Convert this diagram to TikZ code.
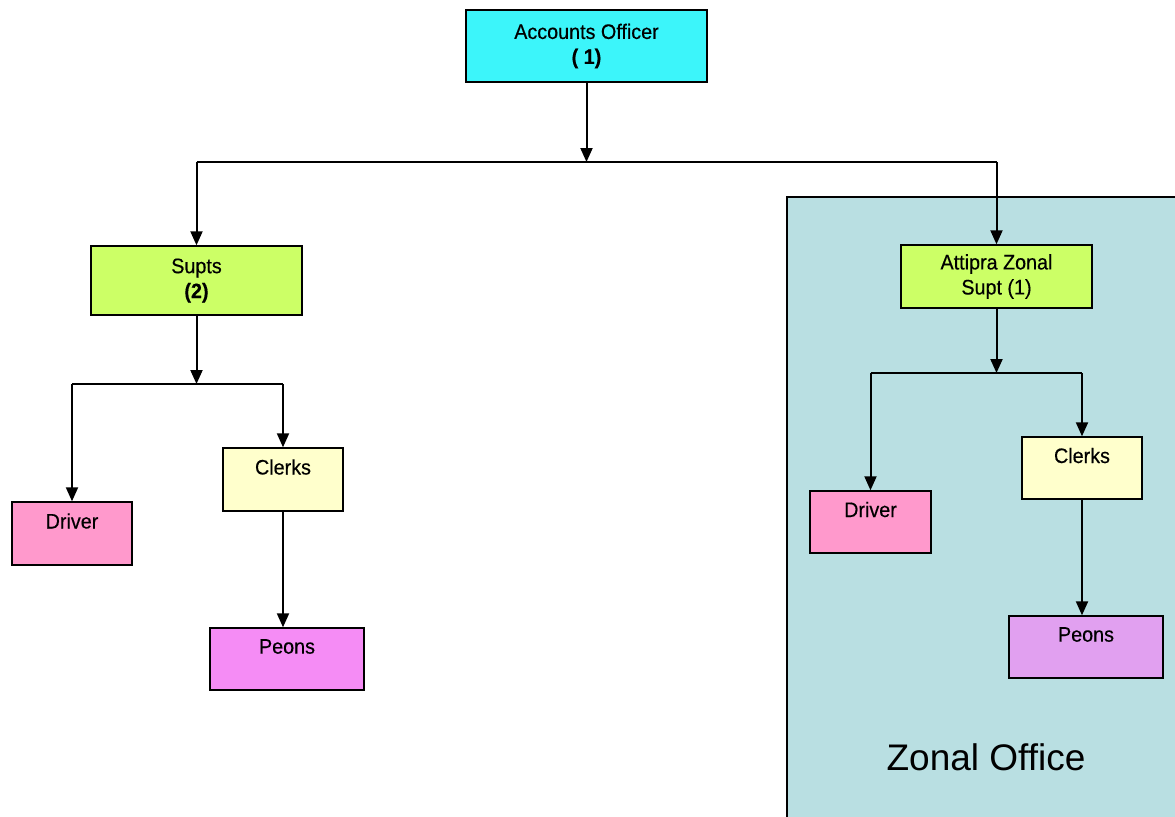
\documentclass[tikz,border=0pt]{standalone}
\usepackage{fontspec}
\setmainfont{Liberation Sans}
\newfontfamily\boxfont[FakeBold=0.4,FakeStretch=0.94]{Liberation Sans}
\usetikzlibrary{arrows.meta}
\definecolor{acccyan}{RGB}{60,245,250}
\definecolor{suptgreen}{RGB}{204,255,102}
\definecolor{drvpink}{RGB}{255,153,204}
\definecolor{clkyellow}{RGB}{255,255,204}
\definecolor{peonpink}{RGB}{245,140,245}
\definecolor{peonlilac}{RGB}{225,160,240}
\definecolor{zoneteal}{RGB}{185,223,226}
\begin{document}
\begin{tikzpicture}[x=0.5pt,y=-0.5pt,
	box/.style={draw,line width=0.7pt,align=center,inner sep=0pt,
		minimum width=60pt,minimum height=31.5pt,font=\boxfont\fontsize{10.5}{12.5}\selectfont},
	arr/.style={line width=1pt,-{Triangle[length=7pt,width=6pt]}},
	link/.style={line width=1pt}]
	\useasboundingbox (0,0) rectangle (1175,816);
	% zonal office area
	\draw[fill=zoneteal,line width=1pt] (787,197) rectangle (1190,830);
	\node (zone) at (986,757) {\fontsize{18.5}{22}\selectfont Zonal Office};
	
	\node[box,fill=acccyan,minimum width=120.5pt,minimum height=36pt] (acc) at (586.5,46)
		{Accounts Officer\\\textbf{( 1)}};
	\node[box,fill=suptgreen,minimum width=105.5pt,minimum height=34.5pt] (supts) at (196.5,280.5)
		{Supts\\\textbf{(2)}};
	\node[box,fill=suptgreen,minimum width=95.5pt] (att) at (996.5,276.5)
		{Attipra Zonal\\Supt (1)};
	\node[box,fill=drvpink] (drv) at (72,533.5) {Driver\\\phantom{Driver}};
	\node[box,fill=clkyellow] (clk) at (283,479.5) {Clerks\\\phantom{Clerks}};
	\node[box,fill=peonpink,minimum width=77pt,minimum height=31pt] (peo) at (287,659)
		{Peons\\\phantom{Peons}};
	\node[box,fill=drvpink,minimum width=60.5pt,minimum height=31pt] (zdrv) at (870.5,522)
		{Driver\\\phantom{Driver}};
	\node[box,fill=clkyellow,minimum height=31pt] (zclk) at (1082,468) {Clerks\\\phantom{Clerks}};
	\node[box,fill=peonlilac,minimum width=77pt,minimum height=31pt] (zpeo) at (1086,647)
		{Peons\\\phantom{Peons}};
	
	\path
	(586,162) coordinate (top)
	(200,384) coordinate (left)
	(998,373) coordinate (right);
	
	\draw[arr] (acc.south) -- (acc.south |- top);
	\draw[link] (supts.north |- top) -- (att.north |- top);
	\draw[arr] (supts.north |- top) -- (supts.north);
	\draw[arr] (att.north |- top) -- (att.north);
	
	\draw[arr] (supts.south) -- (supts.south |- left);
	\draw[link] (drv.north |- left) -- (clk.north |- left);
	\draw[arr] (drv.north |- left) -- (drv.north);
	\draw[arr] (clk.north |- left) -- (clk.north);
	\draw[arr] (clk.south) -- (clk.south |- peo.north);
	
	\draw[arr] (att.south) -- (att.south |- right);
	\draw[link] (zdrv.north |- right) -- (zclk.north |- right);
	\draw[arr] (zdrv.north |- right) -- (zdrv.north);
	\draw[arr] (zclk.north |- right) -- (zclk.north);
	\draw[arr] (zclk.south) -- (zclk.south |- zpeo.north);
\end{tikzpicture}
\end{document}
